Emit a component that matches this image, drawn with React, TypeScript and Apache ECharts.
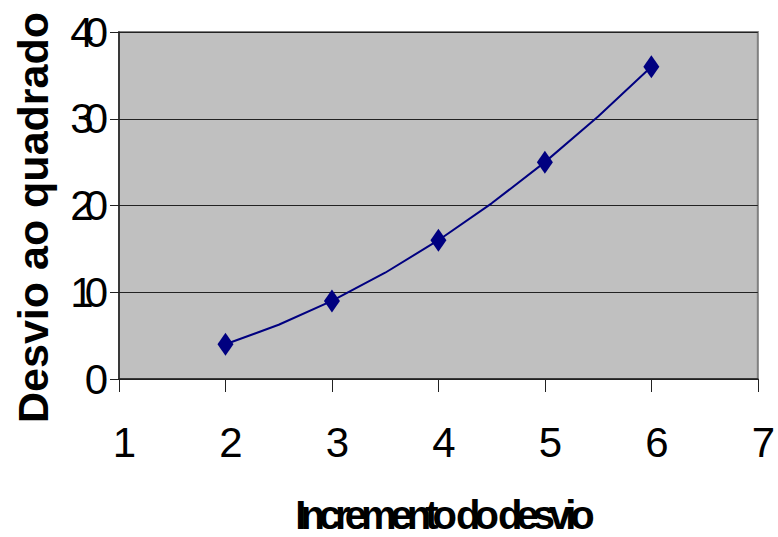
import React, { useEffect, useRef } from "react";
import * as echarts from "echarts";

// Line path (corner points at half steps, markers at integers)
const lineX = [2, 2.5, 3, 3.5, 4, 4.5, 5, 5.5, 6];
const lineY = [4, 6.25, 9, 12.25, 16, 20.25, 25, 30.25, 36];
// Diamond markers
const markX = [2, 3, 4, 5, 6];
const markY = [4, 9, 16, 25, 36];
// Axis ranges
const xRange = [1, 7];
const yRange = [0, 40];
const yStep = 10;
const xStep = 1;
// Titles
const xTitle = "Incremento do desvio";
const yTitle = "Desvio ao quadrado";

const NAVY = "#000080";

export default function App() {
  const ref = useRef<HTMLDivElement>(null);
  useEffect(() => {
    document.body.style.margin = "0";
    const chart = echarts.init(ref.current as HTMLDivElement, null, { renderer: "svg" });
    chart.setOption({
      animation: false,
      backgroundColor: "#ffffff",
      grid: {
        left: 119,
        top: 32,
        right: 18,
        bottom: 158,
        show: true,
        backgroundColor: "#C0C0C0",
        borderColor: "#808080",
        borderWidth: 2,
      },
      xAxis: {
        type: "value",
        min: xRange[0],
        max: xRange[1],
        interval: xStep,
        axisLine: { show: true, onZero: false, lineStyle: { color: "#222222", width: 1.5 } },
        axisTick: { show: true, inside: false, length: 13, lineStyle: { color: "#222222", width: 1 } },
        splitLine: { show: false },
        axisLabel: {
          margin: 42,
          color: "#000000",
          fontSize: 42,
          fontFamily: "Arial",
          padding: [0, 0, 0, 11],
        },
      },
      yAxis: {
        type: "value",
        min: yRange[0],
        max: yRange[1],
        interval: yStep,
        axisLine: { show: true, lineStyle: { color: "#222222", width: 1.5 } },
        axisTick: { show: true, inside: false, length: 9, lineStyle: { color: "#222222", width: 1 } },
        splitLine: { show: true, lineStyle: { color: "#222222", width: 1 } },
        axisLabel: {
          margin: 20,
          color: "#000000",
          fontSize: 42,
          fontFamily: "Liberation Sans, ylab",
        },
      },
      graphic: [
        {
          type: "text",
          x: 442,
          y: 515,
          style: {
            text: xTitle,
            fontSize: 40,
            lineHeight: 30,
            fontWeight: "bold",
            fontFamily: "Liberation Sans, xttl",
            fill: "#000000",
            textAlign: "center",
            textVerticalAlign: "middle",
          },
        },
        {
          type: "text",
          x: 32.5,
          y: 217.5,
          rotation: Math.PI / 2,
          style: {
            text: yTitle,
            fontSize: 43,
            fontWeight: "bold",
            fontFamily: "Arial",
            fill: "#000000",
            textAlign: "center",
            textVerticalAlign: "middle",
          },
        },
      ],
      series: [
        {
          type: "line",
          data: lineX.map((x, i) => [x, lineY[i]]),
          showSymbol: false,
          symbol: "none",
          smooth: false,
          lineStyle: { color: NAVY, width: 2 },
          z: 2,
        },
        {
          type: "scatter",
          data: markX.map((x, i) => [x, markY[i]]),
          symbol: "diamond",
          symbolSize: [16, 23],
          itemStyle: { color: NAVY, opacity: 1 },
          z: 3,
        },
      ],
    });
    return () => chart.dispose();
  }, []);
  return (
    <>
      <style>{`#chartbox text[style*="ylab"]{letter-spacing:-9px} #chartbox text[style*="xttl"]{letter-spacing:-6px}`}</style>
      <div id="chartbox" ref={ref} style={{ width: 778, height: 537 }} />
    </>
  );
}
